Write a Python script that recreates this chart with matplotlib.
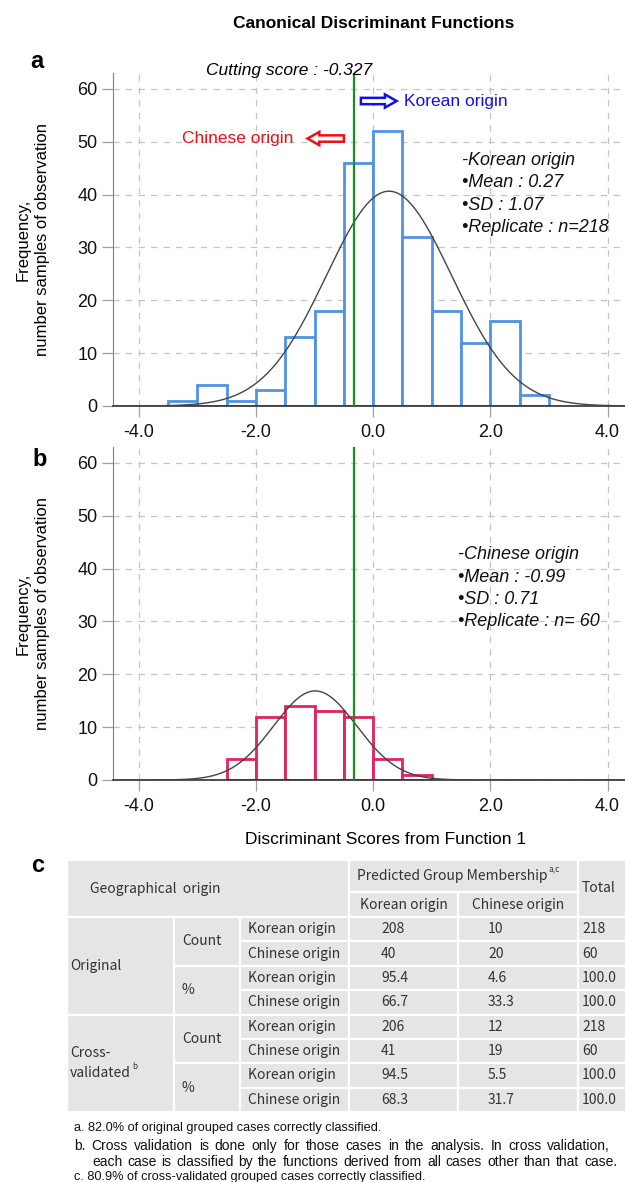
import numpy as np
import matplotlib
matplotlib.use("Agg")
import matplotlib.pyplot as plt
from matplotlib.patches import Rectangle, FancyArrow

plt.rcParams['font.family'] = ['Liberation Sans', 'DejaVu Sans']

# ---------------- data ----------------
bin_width = 0.5
korean_bin_left = [-3.5, -3.0, -2.5, -2.0, -1.5, -1.0, -0.5, 0.0, 0.5, 1.0, 1.5, 2.0, 2.5]
korean_counts = [1, 4, 1, 3, 13, 18, 46, 52, 32, 18, 12, 16, 2]
chinese_bin_left = [-2.5, -2.0, -1.5, -1.0, -0.5, 0.0, 0.5]
chinese_counts = [4, 12, 14, 13, 12, 4, 1]
korean_mean, korean_sd = 0.27, 1.07
chinese_mean, chinese_sd = -0.99, 0.71
cutting_score = -0.327
x_ticks = [-4, -2, 0, 2, 4]
x_tick_labels = ['-4.0', '-2.0', '0.0', '2.0', '4.0']
y_ticks = [0, 10, 20, 30, 40, 50, 60]

# table data
tbl_group = ['Original', 'Cross-', 'validated']
tbl_measure = ['Count', '%']
tbl_rowlab = ['Korean origin', 'Chinese origin']
tbl_pred_korean = ['208', '40', '95.4', '66.7', '206', '41', '94.5', '68.3']
tbl_pred_chinese = ['10', '20', '4.6', '33.3', '12', '19', '5.5', '31.7']
tbl_total = ['218', '60', '100.0', '100.0', '218', '60', '100.0', '100.0']
footnotes = [
    "a. 82.0% of original grouped cases correctly classified.",
    "b. Cross validation is done only for those cases in the analysis. In cross validation,",
    "each case is classified by the functions derived from all cases other than that case.",
    "c. 80.9% of cross-validated grouped cases correctly classified.",
]

# ---------------- layout helpers ----------------
W, H = 625, 1182
fig = plt.figure(figsize=(W / 100, H / 100), dpi=100)
renderer = fig.canvas.get_renderer()


def fx(px):
    return px / W


def fy(py):
    return 1 - py / H


XL = (-4.44, 4.297)
YL = (0, 63.0)
BLUE = '#4f93e6'
RED = '#e0245e'
GREEN = '#1e8c1e'


def make_hist(top_px, bottom_px, lefts, counts, mean, sd, color):
    ax = fig.add_axes([fx(113), fy(bottom_px), 1 - fx(113), (bottom_px - top_px) / H])
    ax.set_xlim(*XL)
    ax.set_ylim(*YL)
    ax.set_xticks(x_ticks)
    ax.set_xticklabels(x_tick_labels)
    ax.set_yticks(y_ticks)
    ax.grid(True, color='#c4c4c4', linestyle=(0, (5, 5)), linewidth=0.9)
    ax.set_axisbelow(True)
    for s in ['top', 'right']:
        ax.spines[s].set_visible(False)
    ax.spines['left'].set_color('#808080')
    ax.spines['bottom'].set_color('#303030')
    ax.spines['bottom'].set_linewidth(1.2)
    ax.tick_params(axis='both', labelsize=13, color='#a0a0a0', length=8, width=0.9,
                   labelcolor='#111111')
    ax.tick_params(axis='x', pad=5)
    ax.tick_params(axis='y', pad=3)
    ax.bar(lefts, counts, width=bin_width, align='edge', facecolor='white',
           edgecolor=color, linewidth=2.0, zorder=2)
    n = sum(counts)
    xs = np.linspace(XL[0], XL[1], 500)
    ys = n * bin_width / (sd * np.sqrt(2 * np.pi)) * np.exp(-0.5 * ((xs - mean) / sd) ** 2)
    ax.plot(xs, ys, color='#444444', linewidth=1.0, zorder=3)
    ax.axvline(cutting_score, color=GREEN, linewidth=1.6, zorder=4)
    return ax


ax1 = make_hist(73, 406, korean_bin_left, korean_counts, korean_mean, korean_sd, BLUE)
ax2 = make_hist(447, 780, chinese_bin_left, chinese_counts, chinese_mean, chinese_sd, RED)

# ---- annotations panel a ----
fig.text(fx(374), fy(23), 'Canonical Discriminant Functions', ha='center', va='center',
         fontsize=12.5, fontweight='bold')
fig.text(fx(37), fy(62), 'a', ha='center', va='center', fontsize=17, fontweight='bold')
fig.text(fx(289), fy(71), 'Cutting score : -0.327', ha='center', va='center',
         fontsize=12.5, style='italic')

ax1.add_patch(FancyArrow(-0.21, 57.7, 0.61, 0, width=1.2, head_width=2.5,
                         head_length=0.2, length_includes_head=True,
                         facecolor='white', edgecolor='#1010ee', linewidth=1.8, zorder=5))
ax1.text(0.53, 57.7, 'Korean origin', color='#1010ee', fontsize=12.5, ha='left', va='center')
ax1.add_patch(FancyArrow(-0.50, 50.6, -0.62, 0, width=1.2, head_width=2.5,
                         head_length=0.2, length_includes_head=True,
                         facecolor='white', edgecolor='#ee1010', linewidth=1.8, zorder=5))
ax1.text(-1.36, 50.6, 'Chinese origin', color='#ee1010', fontsize=12.5, ha='right', va='center')

stats_a = ['-Korean origin', '\u2022Mean : %.2f' % korean_mean, '\u2022SD : %.2f' % korean_sd,
           '\u2022Replicate : n=%d' % sum(korean_counts)]
for t, yy in zip(stats_a, [46.4, 42.2, 38.0, 33.7]):
    ax1.text(1.51, yy, t, fontsize=13, style='italic', ha='left', va='center', color='#111111')

# ---- panel b ----
fig.text(fx(40), fy(460), 'b', ha='center', va='center', fontsize=17, fontweight='bold')
stats_b = ['-Chinese origin', '\u2022Mean : %.2f' % chinese_mean, '\u2022SD : %.2f' % chinese_sd,
           '\u2022Replicate : n= %d' % sum(chinese_counts)]
for t, yy in zip(stats_b, [42.6, 38.4, 34.2, 30.0]):
    ax2.text(1.45, yy, t, fontsize=13, style='italic', ha='left', va='center', color='#111111')

ylab = 'Frequency,\nnumber samples of observation'
for yc in [(73 + 406) / 2, (447 + 780) / 2]:
    fig.text(fx(33), fy(yc), ylab, rotation=90, ha='center', va='center', fontsize=12,
             multialignment='center', linespacing=1.4)
fig.text(fx(386), fy(839), 'Discriminant Scores from Function 1', ha='center', va='center',
         fontsize=12.5)

# ---------------- table ----------------
axt = fig.add_axes([0, 0, 1, 1])
axt.set_xlim(0, W)
axt.set_ylim(H, 0)
axt.axis('off')
axt.patch.set_alpha(0)

TF = ['Noto Sans CJK KR', 'DejaVu Sans']
TS = 10
TC = '#333333'
GRAY = '#e5e5e5'
cx = [67, 174, 240, 349, 458, 578, 700]
h0, h1, h2 = 860, 892, 917
rh = (1112 - 917) / 8
ry = [h2 + i * rh for i in range(9)]


def cell(x0, x1, y0, y1):
    axt.add_patch(Rectangle((x0, y0), x1 - x0, y1 - y0, facecolor=GRAY, edgecolor='white',
                            linewidth=1.6))


def ttext(x, y, s, ha='left', **kw):
    return axt.text(x, y, s, ha=ha, va='center', fontsize=TS, color=TC, family=TF, **kw)


def right_px(t):
    bb = t.get_window_extent(renderer=renderer)
    return bb.x1


# header
cell(cx[0], cx[3], h0, h2)
cell(cx[3], cx[5], h0, h1)
cell(cx[3], cx[4], h1, h2)
cell(cx[4], cx[5], h1, h2)
cell(cx[5], cx[6], h0, h2)
ttext(90, (h0 + h2) / 2, 'Geographical  origin')
tp = ttext(452, (h0 + h1) / 2, 'Predicted Group Membership', ha='center')
axt.text(right_px(tp) + 1.5, h0 + 9, 'a,c', fontsize=6, color=TC, family=TF,
         ha='left', va='center')
ttext((cx[3] + cx[4]) / 2, (h1 + h2) / 2, 'Korean origin', ha='center')
ttext((cx[4] + cx[5]) / 2, (h1 + h2) / 2, 'Chinese origin', ha='center')
ttext(582, (h0 + h2) / 2, 'Total')

# body
for g in range(2):
    cell(cx[0], cx[1], ry[4 * g], ry[4 * g + 4])
    for m in range(2):
        r0 = 4 * g + 2 * m
        cell(cx[1], cx[2], ry[r0], ry[r0 + 2])
        ttext(cx[1] + 8, (ry[r0] + ry[r0 + 2]) / 2, tbl_measure[m])
    for r in range(4):
        i = 4 * g + r
        cell(cx[2], cx[3], ry[i], ry[i + 1])
        cell(cx[3], cx[4], ry[i], ry[i + 1])
        cell(cx[4], cx[5], ry[i], ry[i + 1])
        cell(cx[5], cx[6], ry[i], ry[i + 1])
        yc = (ry[i] + ry[i + 1]) / 2
        ttext(cx[2] + 8, yc, tbl_rowlab[r % 2])
        ttext(cx[3] + 32, yc, tbl_pred_korean[i])
        ttext(cx[4] + 30, yc, tbl_pred_chinese[i])
        ttext(cx[5] + 4, yc, tbl_total[i])
ttext(70, (ry[0] + ry[4]) / 2, tbl_group[0])
ymid = (ry[4] + ry[8]) / 2
ttext(70, ymid - 10, tbl_group[1])
tv = ttext(70, ymid + 10, tbl_group[2])
axt.text(right_px(tv) + 1.5, ymid + 3, 'b', fontsize=6, color=TC, family=TF,
         ha='left', va='center')

fig.text(fx(38), fy(866), 'c', ha='center', va='center', fontsize=17, fontweight='bold')

# ---------------- footnotes ----------------
FS = 9.2
FSB = 10.0


def justified(line, x0, x1, y, fs):
    words = line.split(' ')
    objs = [fig.text(0, fy(y), w, ha='left', va='center', fontsize=fs, color='#111111')
            for w in words]
    widths = [o.get_window_extent(renderer=renderer).width for o in objs]
    gap = (x1 - x0 - sum(widths)) / (len(words) - 1)
    x = x0
    for o, wd in zip(objs, widths):
        o.set_x(fx(x))
        x += wd + gap


fig.text(fx(74), fy(1128), footnotes[0], ha='left', va='center', fontsize=FS, color='#111111')
justified(footnotes[1], 74, 610, 1146, FSB)
justified(footnotes[2], 92, 617, 1162, FSB)
fig.text(fx(74), fy(1177), footnotes[3], ha='left', va='center', fontsize=FS, color='#111111')

fig.savefig('out.png', dpi=100)
